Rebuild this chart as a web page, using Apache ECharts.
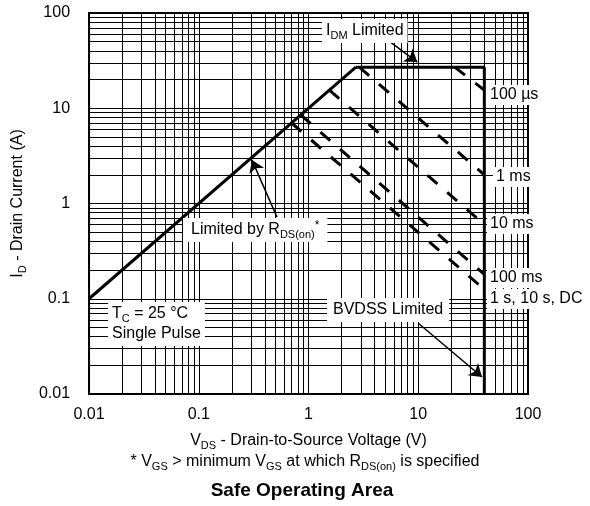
<!DOCTYPE html>
<html>
<head>
<meta charset="utf-8">
<script src="https://cdn.jsdelivr.net/npm/echarts@6/dist/echarts.min.js"></script>
<style>
  html, body { margin: 0; padding: 0; background: #fff; }
  #chart { width: 590px; height: 506px; }
</style>
</head>
<body>
<div id="chart"></div>
<script>
  // decades of the log grid and the minor lines inside each decade
  var decades = [0.01, 0.1, 1, 10];
  var minorSteps = [2, 3, 4, 5, 6, 7, 8, 9];

  // limit lines (V, A)
  var rdsV = [0.01, 2.7], rdsI = [0.1, 27];
  var idmV = [2.7, 40], idmI = [27, 27];
  var bvdssV = [40, 40], bvdssI = [27, 0.01];

  // pulse width lines
  var pulseNames = ['100 µs', '1 ms', '10 ms', '100 ms', 'DC'];
  var pulseV = [[21.5, 40], [2.9, 40], [1.55, 40], [0.85, 40], [0.7, 40]];
  var pulseI = [[27, 15.5], [27, 2.0], [15.5, 0.6], [8.5, 0.18], [7.0, 0.125]];

  // annotation arrows: [from, to] in (V, A)
  var arrows = [
    [[5.5, 50], [9.8, 30.5]],
    [[0.516, 0.72], [0.305, 2.87]],
    [[9.95, 0.0556], [38.1, 0.0151]]
  ];

  var FONT = 'Liberation Sans, Arial, Helvetica, sans-serif';
  var sub = { fontSize: 11, fontFamily: FONT, verticalAlign: 'bottom', lineHeight: 12, fill: '#000', color: '#000' };
  var sup = { fontSize: 12, fontFamily: FONT, verticalAlign: 'top', lineHeight: 12, fill: '#000', color: '#000' };

  function pairs(xs, ys) {
    return xs.map(function (x, i) { return [x, ys[i]]; });
  }

  var minorVals = [];
  decades.forEach(function (d) {
    minorSteps.forEach(function (m) { minorVals.push(+(d * m).toPrecision(3)); });
  });
  var gridMarks = [];
  minorVals.forEach(function (v) {
    gridMarks.push({ xAxis: v });
    gridMarks.push({ yAxis: v });
  });

  function fmt(v) {
    return v >= 1 ? String(Math.round(v)) : String(+v.toPrecision(1));
  }

  var myChart = echarts.init(document.getElementById('chart'));

  var series = [
    {
      name: 'grid',
      type: 'line',
      data: [],
      silent: true,
      markLine: {
        silent: true,
        symbol: 'none',
        label: { show: false },
        animation: false,
        lineStyle: { color: '#000', width: 1, type: 'solid' },
        data: gridMarks
      }
    },
    {
      name: 'rds', type: 'line', data: pairs(rdsV, rdsI), symbol: 'none', z: 5,
      lineStyle: { color: '#000', width: 3 }
    },
    {
      name: 'idm', type: 'line', data: pairs(idmV, idmI), symbol: 'none', z: 5,
      lineStyle: { color: '#000', width: 3 }
    },
    {
      name: 'bvdss', type: 'line', data: pairs(bvdssV, bvdssI), symbol: 'none', z: 5,
      lineStyle: { color: '#000', width: 3 }
    },
    {
      name: 'arrows',
      type: 'line',
      data: [],
      markLine: {
        silent: true,
        animation: false,
        symbol: ['none', 'arrow'],
        symbolSize: 12,
        label: { show: false },
        itemStyle: { color: '#000' },
        lineStyle: { color: '#000', width: 1.5, type: 'solid' },
        data: arrows.map(function (a) {
          return [{ coord: a[0] }, { coord: a[1] }];
        })
      }
    }
  ];

  pulseNames.forEach(function (n, i) {
    series.push({
      name: n, type: 'line', data: pairs(pulseV[i], pulseI[i]), symbol: 'none', z: 4,
      lineStyle: { color: '#000', width: 3, type: [13, 13] }
    });
  });

  var box = function (x, y, text, extra) {
    var st = {
      text: text,
      font: '16px ' + FONT,
      fill: '#000',
      backgroundColor: '#fff',
      padding: [2, 4],
      lineHeight: 20,
      align: 'left',
      verticalAlign: 'top',
      rich: { sub: sub, sup: sup }
    };
    for (var k in extra) st[k] = extra[k];
    return { type: 'text', x: x, y: y, z: 100, silent: true, style: st };
  };

  var option = {
    animation: false,
    backgroundColor: '#fff',
    grid: {
      left: 89, top: 13, right: 62, bottom: 112,
      show: true, borderColor: '#000', borderWidth: 2, backgroundColor: 'transparent'
    },
    xAxis: {
      type: 'log', logBase: 10, min: 0.01, max: 100,
      name: 'V{sub|DS} - Drain-to-Source Voltage (V)',
      nameLocation: 'middle', nameGap: 37,
      nameTextStyle: { fontSize: 16, fontFamily: FONT, color: '#000', lineHeight: 20, rich: { sub: sub } },
      axisLine: { lineStyle: { color: '#000', width: 2 } },
      axisTick: { show: false },
      axisLabel: { color: '#000', fontSize: 16, fontFamily: FONT, margin: 13, formatter: fmt },
      splitLine: { show: true, lineStyle: { color: '#000', width: 1 } }
    },
    yAxis: {
      type: 'log', logBase: 10, min: 0.01, max: 100,
      name: 'I{sub|D} - Drain Current (A)',
      nameLocation: 'middle', nameGap: 59,
      nameTextStyle: { fontSize: 16, fontFamily: FONT, color: '#000', lineHeight: 20, rich: { sub: sub } },
      axisLine: { lineStyle: { color: '#000', width: 2 } },
      axisTick: { show: false },
      axisLabel: { color: '#000', fontSize: 16, fontFamily: FONT, margin: 19, formatter: fmt },
      splitLine: { show: true, lineStyle: { color: '#000', width: 1 } }
    },
    graphic: [
      box(322, 19, 'I{sub|DM} Limited'),
      box(183, 218, 'Limited by R{sub|DS(on)}{sup|*}', { padding: [2, 8] }),
      box(108, 302, 'T{sub|C} = 25 °C\nSingle Pulse'),
      box(327, 298, 'BVDSS Limited', { padding: [2, 6] }),
      box(487, 85, '100 µs', { padding: [0, 3] }),
      box(493, 167, '1 ms', { padding: [0, 3] }),
      box(487, 214, '10 ms', { padding: [0, 3] }),
      box(487, 268, '100 ms', { padding: [0, 3] }),
      box(487, 289, '1 s, 10 s, DC', { padding: [0, 3] }),
      {
        type: 'text', x: 305, y: 462, z: 100, silent: true,
        style: {
          text: '* V{sub|GS} > minimum V{sub|GS} at which R{sub|DS(on)} is specified',
          font: '16px ' + FONT, fill: '#000', lineHeight: 20,
          align: 'center', verticalAlign: 'middle',
          rich: { sub: sub }
        }
      },
      {
        type: 'text', x: 302, y: 491, z: 100, silent: true,
        style: {
          text: 'Safe Operating Area',
          font: 'bold 19px ' + FONT, fill: '#000',
          align: 'center', verticalAlign: 'middle'
        }
      }
    ],
    series: series
  };

  myChart.setOption(option);
</script>
</body>
</html>
